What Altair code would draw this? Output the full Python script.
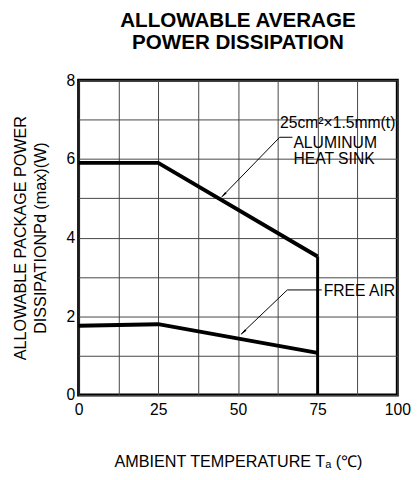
import altair as alt
import pandas as pd

# Curves
temp = [0, 25, 75]
heat_sink = [5.9, 5.9, 3.52]
free_air = [1.76, 1.8, 1.07]

# Cut-off at 75 C
cutoff_x = [75]
cutoff_y = [3.52]

# Annotation texts (data coordinates)
ann_text = ["25cm²×1.5mm(t)", "ALUMINUM\nHEAT SINK", "FREE AIR"]
ann_x = [99.4, 67.4, 76.9]
ann_y = [6.9, 6.4, 2.64]
ann_align = ["right", "left", "left"]

# Leader lines (data coordinates)
lead_id = ["hs_h", "hs_h", "hs_d", "hs_d", "fa_h", "fa_h", "fa_d", "fa_d"]
lead_x = [63.1, 67.1, 63.1, 45.0, 65.5, 76.3, 65.5, 51.0]
lead_y = [6.55, 6.55, 6.55, 5.04, 2.67, 2.67, 2.67, 1.55]

# Arrow heads
arrow_x = [45.7, 51.9]
arrow_y = [5.10, 1.61]
arrow_angle = [225, 226]

x_ticks = [0, 12.5, 25, 37.5, 50, 62.5, 75, 87.5, 100]
y_ticks = [0, 1, 2, 3, 4, 5, 6, 7, 8]

FONT = "Liberation Sans"

curves = pd.DataFrame({
    "t": temp * 2,
    "p": heat_sink + free_air,
    "s": ["hs"] * 3 + ["fa"] * 3,
})
cut = pd.DataFrame({"t": cutoff_x, "p": cutoff_y, "p0": [0]})
ann = pd.DataFrame({"label": ann_text, "x": ann_x, "y": ann_y, "align": ann_align})
lead = pd.DataFrame({"id": lead_id, "x": lead_x, "y": lead_y, "o": list(range(len(lead_x)))})
arr = pd.DataFrame({"x": arrow_x, "y": arrow_y, "a": arrow_angle})

xs = alt.Scale(domain=[0, 100], nice=False, zero=False)
ys = alt.Scale(domain=[0, 8], nice=False, zero=False)

xaxis = alt.Axis(
    values=x_ticks,
    labelExpr="datum.value % 25 == 0 ? datum.label : ''",
    title="AMBIENT TEMPERATURE Tₐ (℃)",
    grid=True, gridColor="#444", gridWidth=1,
    ticks=False, domain=False,
    labelFont=FONT, labelFontSize=16, labelColor="black", labelPadding=7,
    labelFlush=False,
    titleFont=FONT, titleFontSize=16.5, titleFontWeight="normal", titleColor="black",
    titlePadding=37,
)
yaxis = alt.Axis(
    values=y_ticks,
    labelExpr="datum.value % 2 == 0 ? datum.label : ''",
    title=["ALLOWABLE PACKAGE POWER", "DISSIPATIONPd (max)(W)"],
    grid=True, gridColor="#444", gridWidth=1,
    ticks=False, domain=False,
    labelFont=FONT, labelFontSize=16, labelColor="black", labelPadding=4,
    labelFlush=False,
    titleFont=FONT, titleFontSize=16.5, titleFontWeight="normal", titleColor="black",
    titlePadding=18, titleLineHeight=20,
)

base_lines = alt.Chart(curves).mark_line(color="black", strokeWidth=4).encode(
    x=alt.X("t:Q", scale=xs, axis=xaxis),
    y=alt.Y("p:Q", scale=ys, axis=yaxis),
    detail="s:N",
)

cut_rule = alt.Chart(cut).mark_rule(color="black", strokeWidth=3).encode(
    x="t:Q", y="p0:Q", y2="p:Q"
)

leaders = alt.Chart(lead).mark_line(color="black", strokeWidth=1).encode(
    x="x:Q", y="y:Q", detail="id:N", order="o:Q"
)

arrows = alt.Chart(arr).mark_point(
    shape="wedge", filled=True, color="black", size=70, opacity=1
).encode(x="x:Q", y="y:Q", angle=alt.Angle("a:Q", scale=None))

def text_layer(align):
    d = ann[ann["align"] == align]
    return alt.Chart(d).mark_text(
        align=align, baseline="middle", font=FONT, fontSize=16, color="black",
        lineBreak="\n", lineHeight=16,
    ).encode(x="x:Q", y="y:Q", text="label:N")

chart = alt.layer(
    base_lines, cut_rule, leaders, arrows, text_layer("right"), text_layer("left")
).properties(
    width=325,
    height=321,
    title=alt.TitleParams(
        text=["ALLOWABLE AVERAGE", "POWER DISSIPATION"],
        font=FONT, fontSize=21, fontWeight="bold", color="black",
        anchor="middle", offset=20, lineHeight=22,
    ),
    autosize=alt.AutoSizeParams(type="none"),
    padding={"left": 72, "top": 69, "right": 15, "bottom": 80},
).configure_view(
    stroke="black", strokeWidth=3
)

chart.save("out.html", embed_options={"renderer": "svg", "actions": False})
